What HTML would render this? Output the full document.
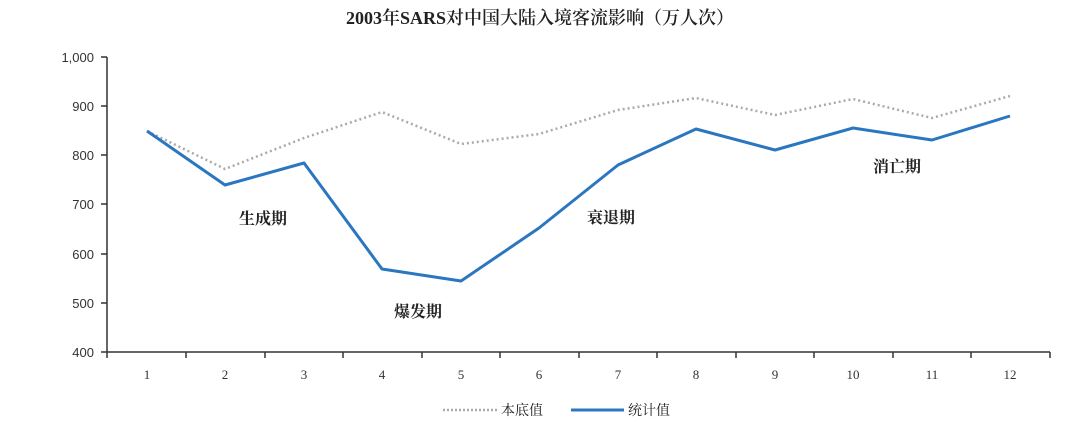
<!DOCTYPE html><html><head><meta charset="utf-8"><style>body{margin:0;background:#fff}svg text{font-family:"Liberation Serif","Noto Serif CJK SC",serif}</style></head><body>
<svg width="1080" height="429" viewBox="0 0 1080 429" xmlns="http://www.w3.org/2000/svg">
<text x="540" y="24" text-anchor="middle" font-size="18" font-weight="600" fill="#222">2003年SARS对中国大陆入境客流影响（万人次）</text>
<g stroke="#333" stroke-width="1.5" fill="none">
<line x1="107" y1="57" x2="107" y2="352"/><line x1="107" y1="352" x2="1050" y2="352"/>
<path d="M101 57H107M101 106H107M101 155H107M101 204H107M101 254H107M101 303H107M101 352H107"/>
<path d="M186 352v6M265 352v6M343 352v6M422 352v6M500 352v6M579 352v6M657 352v6M736 352v6M814 352v6M893 352v6M971 352v6M1050 352v6M107 352v6"/>
</g>
<g font-size="13" fill="#333" text-anchor="end" style="font-family:'Liberation Sans',sans-serif">
<text x="94" y="62" style="font-family:'Liberation Sans',sans-serif">1,000</text><text x="94" y="111" style="font-family:'Liberation Sans',sans-serif">900</text><text x="94" y="160" style="font-family:'Liberation Sans',sans-serif">800</text><text x="94" y="209" style="font-family:'Liberation Sans',sans-serif">700</text><text x="94" y="259" style="font-family:'Liberation Sans',sans-serif">600</text><text x="94" y="308" style="font-family:'Liberation Sans',sans-serif">500</text><text x="94" y="357" style="font-family:'Liberation Sans',sans-serif">400</text></g>
<g font-size="13" fill="#333" text-anchor="middle">
<text x="147" y="379">1</text><text x="225" y="379">2</text><text x="304" y="379">3</text><text x="382" y="379">4</text><text x="461" y="379">5</text><text x="539" y="379">6</text><text x="618" y="379">7</text><text x="696" y="379">8</text><text x="775" y="379">9</text><text x="853" y="379">10</text><text x="932" y="379">11</text><text x="1010" y="379">12</text></g>
<polyline fill="none" stroke="#aaa" stroke-width="2.5" stroke-dasharray="2,3" points="147,131 225,169 304,138 382,112 461,144 539,134 618,110 696,98 775,115 853,99 932,118 1010,96"/>
<polyline fill="none" stroke="#2a77c0" stroke-width="3" stroke-linejoin="round" points="147,131 225,185 304,163 382,269 461,281 539,228 618,165 696,129 775,150 853,128 932,140 1010,116"/>
<g font-size="16" font-weight="bold" fill="#222">
<text x="239" y="224">生成期</text><text x="394" y="317">爆发期</text><text x="587" y="223">衰退期</text><text x="873" y="172">消亡期</text></g>
<line x1="443" y1="410" x2="497" y2="410" stroke="#aaa" stroke-width="2.5" stroke-dasharray="2,2"/>
<line x1="571" y1="410" x2="624" y2="410" stroke="#2a77c0" stroke-width="3"/>
<g font-size="14" fill="#222"><text x="501" y="415">本底值</text><text x="628" y="415">统计值</text></g>
</svg></body></html>
